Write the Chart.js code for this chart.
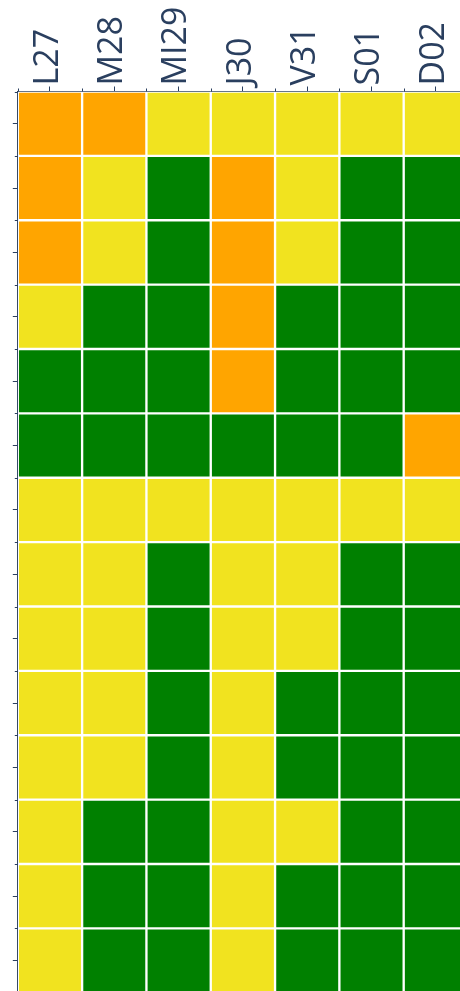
<!DOCTYPE html>
<html>
<head>
<meta charset="utf-8">
<script src="https://cdn.jsdelivr.net/npm/chart.js@4/dist/chart.umd.min.js"></script>
<style>
  html, body { margin: 0; padding: 0; background: #fff; overflow: hidden; }
  #wrap { position: absolute; left: 0; top: 0; }
</style>
</head>
<body>
<div id="wrap"><canvas id="chart" width="470" height="1000"></canvas></div>
<script>
// Weekly availability heatmap (days across, slots down)

const days = ["L27", "M28", "MI29", "J30", "V31", "S01", "D02"];

// one string per row, one letter per day: O = orange, Y = yellow, G = green
const rows = [
  "OOYYYYY",
  "OYGOYGG",
  "OYGOYGG",
  "YGGOGGG",
  "GGGOGGG",
  "GGGGGGO",
  "YYYYYYY",
  "YYGYYGG",
  "YYGYYGG",
  "YYGYGGG",
  "YYGYGGG",
  "YGGYYGG",
  "YGGYGGG",
  "YGGYGGG",
];

const palette = { O: "#ffa500", Y: "#f1e31f", G: "#008000" };
const INK = "#2a3f5f";

// every row is a stack of height 1, coloured per day
const datasets = rows.map(function(r, i) {
  return {
    label: "row " + (i + 1),
    data: days.map(function() { return 1; }),
    backgroundColor: r.split("").map(function(c) { return palette[c]; }),
    borderColor: "#ffffff",
    borderWidth: 1.5,
    borderSkipped: false,
    barPercentage: 1,
    categoryPercentage: 1,
  };
});

// short ticks on the cell boundaries + rotated day labels
const axisExtras = {
  id: "axisExtras",
  afterDraw: function(chart) {
    const ctx = chart.ctx;
    const x = chart.scales.x, y = chart.scales.y;
    ctx.save();
    ctx.strokeStyle = INK;
    ctx.lineWidth = 1;
    ctx.beginPath();
    for (let i = 0; i <= days.length; i++) {
      const px = Math.round(x.getPixelForValue(i - 0.5)) + 0.5;
      ctx.moveTo(px, y.top - 3);
      ctx.lineTo(px, y.top);
    }
    for (let j = 0; j <= rows.length; j++) {
      const py = Math.round(y.getPixelForValue(j)) + 0.5;
      ctx.moveTo(x.left - 3, py);
      ctx.lineTo(x.left, py);
    }
    ctx.stroke();

    ctx.fillStyle = INK;
    ctx.font = "34px 'Open Sans'";
    ctx.textAlign = "left";
    ctx.textBaseline = "middle";
    days.forEach(function(d, i) {
      ctx.save();
      ctx.translate(x.getPixelForValue(i) - 2, y.top - 6);
      ctx.rotate(-Math.PI / 2);
      ctx.fillText(d, 0, 0);
      ctx.restore();
    });
    ctx.restore();
  },
};

new Chart(document.getElementById("chart"), {
  type: "bar",
  data: { labels: days, datasets: datasets },
  plugins: [axisExtras],
  options: {
    responsive: false,
    animation: false,
    events: [],
    layout: { padding: { top: 0, left: 0, right: 2, bottom: 7 } },
    plugins: { legend: { display: false }, tooltip: { enabled: false } },
    scales: {
      x: {
        position: "top",
        stacked: true,
        grid: { display: true, offset: false, drawOnChartArea: false, tickLength: 5, color: INK },
        border: { display: true, color: INK, width: 1 },
        ticks: { display: false },
        afterFit: function(s) { s.height = 91.5; },
      },
      y: {
        stacked: true,
        reverse: true,
        min: 0,
        max: rows.length,
        grid: { display: true, drawOnChartArea: false, tickLength: 5, color: INK },
        border: { display: true, color: INK, width: 1 },
        afterBuildTicks: function(s) {
          s.ticks = rows.map(function(r, i) { return { value: i + 0.5 }; });
        },
        ticks: { callback: function() { return ""; }, padding: 0 },
        afterFit: function(s) { s.width = 17.8; },
      },
    },
  },
});
</script>
</body>
</html>
